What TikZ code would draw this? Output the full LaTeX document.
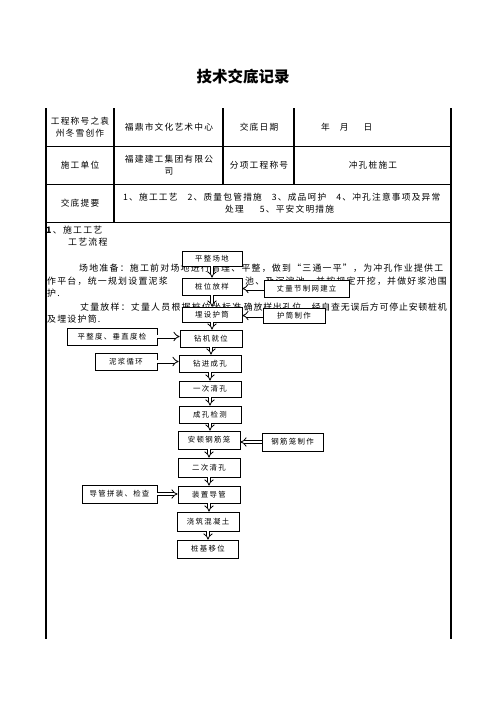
\documentclass[tikz,border=0pt]{standalone}
\usepackage{fontspec}
\setmainfont{Noto Sans CJK SC}
\newfontfamily\cjt[LetterSpace=14]{Noto Sans CJK SC}
\newfontfamily\cjbox[LetterSpace=18]{Noto Sans CJK SC}
\usetikzlibrary{arrows.meta}
\begin{document}
\begin{tikzpicture}[x=1pt,y=-1pt,
  cell/.style={font=\cjt\fontsize{8.7}{12}\selectfont, align=center, inner sep=0pt},
  para/.style={font=\cjt\fontsize{8.9}{12}\selectfont, inner sep=0pt, anchor=west},
  flow/.style={draw, line width=0.7pt, fill=white, font=\cjbox\fontsize{7.4}{9}\selectfont, inner sep=0pt, minimum width=62pt, minimum height=17pt},
  darr/.style={double, double distance=2.4pt, line width=0.8pt, -{Implies}},
  vline/.style={line width=1.1pt},
  hline/.style={line width=0.7pt}]
\useasboundingbox (0,0) rectangle (496,702);
\fill[white] (0,0) rectangle (496,702);

% title
\node[font=\bfseries\fontsize{15.5}{18}\selectfont, inner sep=0pt] (title) at (243,77) {技术交底记录};

% table lines
\draw[vline] (46,108) -- (46,639);
\draw[vline] (451,108) -- (451,639);
\draw[vline] (114,108) -- (114,222);
\draw[vline] (223,108) -- (223,184);
\draw[vline] (294,108) -- (294,184);
\draw[hline] (46,146) -- (451,146);
\draw[hline] (46,184) -- (451,184);
\draw[hline] (46,222) -- (451,222);

% table text
\node[cell] (c11) at (80,127) {工程称号之袁\\州冬雪创作};
\node[cell] (c12) at (169,127) {福鼎市文化艺术中心};
\node[cell] (c13) at (259,127) {交底日期};
\node[cell, anchor=west] (c14) at (321,127) {年\hspace{10pt}月\hspace{15pt}日};
\node[cell] (c21) at (80,165) {施工单位};
\node[cell] (c22) at (169,165) {福建建工集团有限公\\司};
\node[cell] (c23) at (259,165) {分项工程称号};
\node[cell] (c24) at (373,165) {冲孔桩施工};
\node[cell] (c31) at (80,203) {交底提要};
\node[cell, anchor=west] (c32a) at (123,197) {1、施工工艺\hspace{10pt}2、质量包管措施\hspace{10pt}3、成品呵护\hspace{10pt}4、冲孔注意事项及异常};
\node[cell, anchor=west] (c32b) at (225,209) {处理\hspace{16pt}5、平安文明措施};

% section text
\node[para] (s1) at (46,230) {\textbf{1}、施工工艺};
\node[para] (s2) at (68,242) {工艺流程};
\node[para] (p1) at (79,268) {场地准备：施工前对场地进行清理、平整，做到“三通一平”，为冲孔作业提供工};
\node[para] (p2a) at (47,281) {作平台，统一规划设置泥浆};
\node[para, anchor=east] (p2b) at (447,281) {池、及沉淀池，并按规定开挖，并做好浆池围};
\node[para] (p3) at (47,293) {护.};
\node[para] (p4a) at (80,307) {丈量放样：丈量人员根据桩位坐标准};
\node[para, anchor=east, font=\cjt\fontsize{8.9}{12}\selectfont\addfontfeature{LetterSpace=9}] (p4b) at (447,307) {确放样出孔位，经自查无误后方可停止安顿桩机};
\node[para] (p5) at (47,319) {及埋设护筒.};

% flow boxes
\node[flow, minimum width=60pt, minimum height=15pt] (a1) at (212,258.5) {平整场地};
\node[flow, minimum width=60pt] (a2) at (212,286.5) {桩位放样};
\node[flow, minimum width=60pt, minimum height=15pt] (a3) at (212,314.5) {埋设护筒};
\node[flow] (a4) at (211,338.5) {钻机就位};
\node[flow] (a5) at (210,363.5) {钻进成孔};
\node[flow, minimum height=16pt] (a6) at (210,389) {一次清孔};
\node[flow] (a7) at (210,414.5) {成孔检测};
\node[flow, minimum height=18pt] (a8) at (209,440) {安顿钢筋笼};
\node[flow, minimum height=19pt] (a9) at (209,467.5) {二次清孔};
\node[flow] (a10) at (209,494.5) {装置导管};
\node[flow, minimum height=19pt] (a11) at (208,521.5) {浇筑混凝土};
\node[flow, minimum width=61pt, minimum height=18pt] (a12) at (208,549) {桩基移位};

\node[flow, minimum width=85pt] (b1) at (306.5,288.5) {丈量节制网建立};
\node[flow, minimum height=15pt] (b2) at (294,315.5) {护筒制作};
\node[flow, minimum width=90pt] (b3) at (112,336.5) {平整度、垂直度检};
\node[flow] (b4) at (126,361.5) {泥浆循环};
\node[flow, minimum width=61pt, minimum height=18pt] (b5) at (292.5,442) {钢筋笼制作};
\node[flow, minimum width=75pt, minimum height=18pt] (b6) at (119.5,494) {导管拼装、检查};

% vertical arrows
\foreach \u/\v in {a1/a2,a2/a3,a3/a4,a4/a5,a5/a6,a6/a7,a7/a8,a8/a9,a9/a10,a10/a11,a11/a12}
  \draw[darr] (\u.south) -- (\u.south |- \v.north);

% side arrows
\draw[darr] (b1.west) -- (b1.west -| a2.east);
\draw[darr] (b2.west) -- (b2.west -| a3.east);
\draw[darr] (b3.east) -- (b3.east -| a4.west);
\draw[darr] (b4.east) -- (b4.east -| a5.west);
\draw[darr] (b5.west) -- (b5.west -| a8.east);
\draw[darr] (b6.east) -- (b6.east -| a10.west);
\end{tikzpicture}
\end{document}
